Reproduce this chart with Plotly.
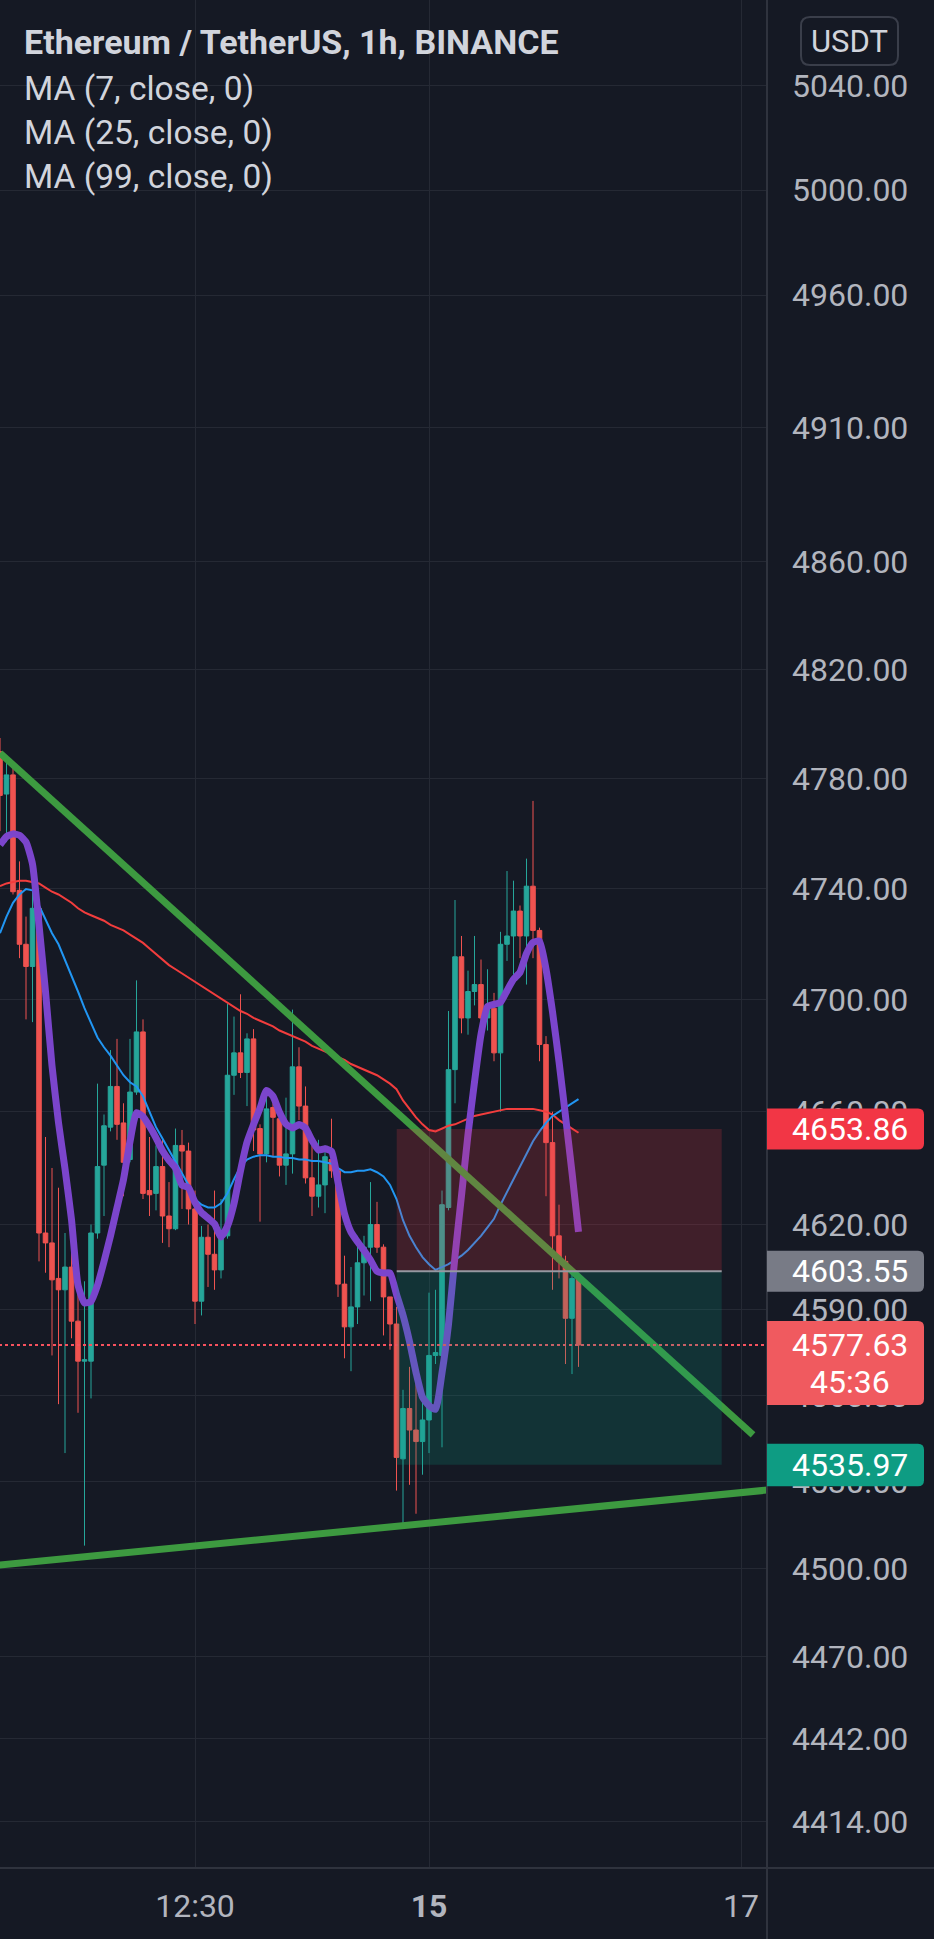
import math
import plotly.graph_objects as go

# ---------------- data ----------------
bars = list(range(90))
open_ = [4790, 4774.5, 4781.5, 4739.5, 4720, 4712, 4733, 4617, 4613.5, 4601,
         4597, 4605, 4586, 4572, 4572, 4617, 4641, 4654.5, 4669, 4656,
         4643, 4667, 4688.5, 4632, 4631, 4640.5, 4623, 4618.5, 4648, 4646,
         4625.5, 4593, 4615.5, 4609.5, 4604, 4616, 4673, 4681, 4674, 4686,
         4654, 4645, 4661.5, 4657.5, 4641, 4645, 4676, 4662, 4636.5, 4630,
         4634, 4643, 4639, 4599, 4584, 4591, 4606.5, 4612, 4620, 4612,
         4594.5, 4585, 4538, 4555.5, 4548, 4544, 4551.5, 4574, 4574, 4626,
         4675, 4715.5, 4693.5, 4703, 4705.5, 4693.5, 4697, 4681, 4720, 4723,
         4732, 4723, 4741, 4725, 4684, 4649, 4616, 4607, 4587, 4601]
high = [4795, 4787, 4784, 4750, 4730, 4739, 4736, 4651, 4640, 4633,
        4617, 4620.5, 4601, 4600, 4620, 4670, 4659, 4682, 4686, 4663,
        4686, 4707, 4693, 4651, 4648, 4650, 4635, 4654, 4653.5, 4649,
        4632, 4619.5, 4620, 4632, 4629, 4698.5, 4694, 4702, 4688, 4689.5,
        4655.5, 4666, 4663, 4661.5, 4665, 4696.5, 4683, 4669, 4648, 4650,
        4648, 4657.5, 4640, 4609, 4605, 4616, 4616, 4635, 4628, 4613,
        4594.5, 4591, 4562, 4570, 4565, 4562, 4596, 4597, 4632, 4696,
        4736, 4723, 4710.5, 4723, 4714.5, 4711, 4702.5, 4724.5, 4746.5, 4743,
        4734, 4751, 4772, 4726, 4687, 4660, 4627, 4609, 4603.5, 4601.5]
low = [4761, 4757, 4738, 4715, 4693, 4692, 4607, 4603, 4574, 4557,
       4540, 4580, 4554, 4508, 4559, 4615, 4623, 4653, 4650, 4630,
       4642, 4666, 4629, 4623, 4625, 4613.5, 4612, 4618, 4625.5, 4620,
       4585, 4588, 4598, 4597, 4601, 4615, 4666, 4672, 4662, 4646,
       4621, 4642, 4644, 4637, 4634, 4638, 4657, 4634.5, 4623, 4626,
       4624, 4636.5, 4594.5, 4573, 4568.5, 4585, 4595, 4593, 4610, 4581,
       4576, 4527, 4515, 4529, 4519, 4532.5, 4540, 4571, 4542, 4625,
       4663, 4688, 4687.5, 4698, 4691, 4689, 4678, 4660, 4714, 4709,
       4715, 4705.5, 4715, 4678, 4630, 4597, 4601, 4571, 4567.5, 4570]
close = [4774, 4781.5, 4739, 4720, 4712, 4733, 4617, 4613.5, 4600.5, 4597,
         4605, 4586, 4572, 4572.5, 4617, 4640.5, 4655, 4669, 4655.5, 4642,
         4667, 4688.5, 4631, 4630.5, 4640.5, 4623, 4618.5, 4648, 4646, 4625.5,
         4593, 4615.5, 4609.5, 4604, 4616, 4673, 4681, 4674, 4686, 4653.5,
         4645, 4661, 4658, 4641, 4645, 4676, 4662, 4636.5, 4630, 4634,
         4644, 4639, 4599, 4584, 4591, 4606.5, 4612, 4620, 4612, 4594.5,
         4585, 4538.5, 4555.5, 4548, 4544, 4551.5, 4574, 4575, 4627, 4675,
         4715.5, 4693.5, 4703, 4705.5, 4693.5, 4697, 4681, 4720, 4723, 4732,
         4723, 4741, 4725, 4684, 4649, 4616, 4607, 4587, 4601, 4577.63]

ma7 = [4756, 4759, 4760, 4759.5, 4757, 4749, 4727, 4703, 4676.4, 4656.1,
       4639.7, 4621.7, 4598.7, 4592.4, 4592.9, 4598.6, 4606.9, 4616, 4625.9, 4635.9,
       4649.4, 4659.6, 4658.3, 4654.8, 4650.7, 4646.1, 4642.7, 4640, 4633.9, 4633.1,
       4627.8, 4624.2, 4622.3, 4620.2, 4615.6, 4619.5, 4627.4, 4639, 4649.1, 4655.4,
       4661.2, 4667.6, 4665.5, 4659.8, 4655.6, 4654.2, 4655.4, 4654.2, 4649.8, 4646.4,
       4646.8, 4645.9, 4634.9, 4623.8, 4617.3, 4613.9, 4610.8, 4607.4, 4603.5, 4602.9,
       4602.9, 4595.4, 4588.1, 4578.9, 4568.1, 4559.4, 4556.5, 4555.2, 4567.9, 4584.9,
       4608.9, 4630.2, 4651.9, 4670.6, 4687.6, 4697.6, 4698.4, 4699.1, 4703.3, 4707.4,
       4709.9, 4716.7, 4720.7, 4721.1, 4711, 4695.7, 4677.9, 4658.4, 4638.4, 4617.4]
ma25 = [4724, 4730, 4735, 4738, 4740, 4739.5, 4734, 4729, 4724, 4720,
        4714.5, 4709, 4703, 4697, 4691.5, 4686.5, 4683, 4680, 4676.5, 4673,
        4670.5, 4669, 4665.5, 4660, 4654.5, 4650.5, 4646.5, 4642.5, 4638.5, 4634,
        4629, 4627, 4626, 4626, 4627.5, 4631, 4636, 4640.5, 4643, 4644,
        4644.5, 4644.5, 4644, 4644, 4643.5, 4643.5, 4643, 4643, 4642.5, 4642.5,
        4642, 4641.5, 4640, 4638.5, 4638.5, 4639, 4639, 4639.5, 4638.5, 4637,
        4634, 4629, 4621.5, 4616, 4612, 4608.5, 4606, 4604, 4605, 4606,
        4607.5, 4609, 4611, 4613.5, 4616, 4619, 4622, 4627, 4631.5, 4636,
        4641, 4645, 4649.5, 4653, 4656, 4658.5, 4660, 4661.5, 4663, 4664.5]
ma99 = [4741, 4742, 4742.5, 4743, 4743, 4742.5, 4742, 4740.5, 4739, 4738,
        4736.5, 4735, 4733, 4731.5, 4730.5, 4729.5, 4728.5, 4727, 4726, 4725,
        4723.5, 4722, 4720.5, 4718.5, 4716.5, 4714.5, 4712.5, 4711, 4709.5, 4708,
        4706.5, 4705, 4703.5, 4702, 4700.5, 4699, 4697.5, 4696, 4695, 4693.5,
        4692.5, 4691.5, 4690.5, 4689, 4688, 4687, 4686, 4685, 4683.5, 4682.5,
        4681.5, 4680.5, 4679.5, 4678.5, 4677, 4676, 4675, 4674, 4673, 4671.5,
        4670, 4668, 4664, 4661, 4658, 4655.5, 4653.5, 4653, 4654, 4655,
        4655.5, 4656.5, 4657.5, 4658.5, 4659, 4659.5, 4660, 4660.5, 4661, 4661,
        4661, 4661, 4661, 4660.5, 4660, 4659, 4657, 4655.5, 4654, 4652.5]

price_ticks = [5040, 5000, 4960, 4910, 4860, 4820, 4780, 4740, 4700, 4660,
               4620, 4590, 4560, 4530, 4500, 4470, 4442, 4414]
price_tick_text = ["%.2f" % v for v in price_ticks]
time_tick_bars = [30, 66, 114]
time_tick_text = ["12:30", "<b>15</b>", "17"]

trend_down_bars = [0, 115.85]
trend_down_prices = [4789.5, 4546.3]
trend_up_bars = [-1, 119]
trend_up_prices = [4501.1, 4527.4]

position_bars = [61.03, 111.03]
stop_price = 4653.86
entry_price = 4603.55
target_price = 4535.97
last_price = 4577.63
countdown = "45:36"

view_prices = [4398.3, 5073.2]
view_bars = [0, 118]

title_text = "Ethereum / TetherUS, 1h, BINANCE"
legend_lines = ["MA (7, close, 0)", "MA (25, close, 0)", "MA (99, close, 0)"]

# ---------------- style ----------------
W, H = 934, 1939
PL, PR, PT, PB = 0, 167, 0, 71
PW, PH = W - PL - PR, H - PT - PB
BG = "#151924"
GRID = "#252934"
SEP = "#2f333e"
TXT = "#b2b5be"
LEG = "#d1d4dc"
UP, DN = "#26a69a", "#ef5350"
FONT = "Roboto"
AX_SIZE = 32


def pxx(x):
    return x / PW


def pxy(y):
    return 1 - y / PH


fig = go.Figure()
fig.add_trace(go.Candlestick(
    x=bars, open=open_, high=high, low=low, close=close,
    increasing=dict(line=dict(color=UP, width=1), fillcolor=UP),
    decreasing=dict(line=dict(color=DN, width=1), fillcolor=DN),
    whiskerwidth=0, hoverinfo="skip", showlegend=False))
fig.add_trace(go.Scatter(x=bars, y=ma99, mode="lines",
                         line=dict(color="#f23d3d", width=2), hoverinfo="skip", showlegend=False))
fig.add_trace(go.Scatter(x=bars, y=ma25, mode="lines",
                         line=dict(color="#2196f3", width=2), hoverinfo="skip", showlegend=False))
fig.add_trace(go.Scatter(x=bars, y=ma7, mode="lines",
                         line=dict(color="#7b45cc", width=7, shape="spline", smoothing=0.5),
                         hoverinfo="skip", showlegend=False))
fig.add_trace(go.Scatter(x=trend_down_bars, y=trend_down_prices, mode="lines",
                         line=dict(color="#3d9a40", width=7), hoverinfo="skip", showlegend=False))
fig.add_trace(go.Scatter(x=trend_up_bars, y=trend_up_prices, mode="lines",
                         line=dict(color="#3d9a40", width=7), hoverinfo="skip", showlegend=False))
fig.add_trace(go.Scatter(x=[view_bars[0] - 2, view_bars[1] + 2], y=[last_price, last_price], mode="lines",
                         line=dict(color="#f7525f", width=2, dash="dot"), hoverinfo="skip", showlegend=False))

shapes = []
# position tool
shapes.append(dict(type="rect", xref="x", yref="y", x0=position_bars[0], x1=position_bars[1],
                   y0=entry_price, y1=stop_price, fillcolor="rgba(242,54,69,0.2)",
                   line=dict(width=0), layer="above"))
shapes.append(dict(type="rect", xref="x", yref="y", x0=position_bars[0], x1=position_bars[1],
                   y0=target_price, y1=entry_price, fillcolor="rgba(8,153,129,0.2)",
                   line=dict(width=0), layer="above"))
shapes.append(dict(type="line", xref="x", yref="y", x0=position_bars[0], x1=position_bars[1],
                   y0=entry_price, y1=entry_price, line=dict(color="#9598a1", width=2), layer="above"))
# separators
shapes.append(dict(type="line", xref="paper", yref="paper", x0=1, x1=1, y0=pxy(H), y1=1,
                   line=dict(color=SEP, width=2), layer="above"))
shapes.append(dict(type="line", xref="paper", yref="paper", x0=0, x1=pxx(W), y0=0, y1=0,
                   line=dict(color=SEP, width=2), layer="above"))


def tag_path(up, down, w=157, r=6):
    return ("M 0,%g L %g,%g Q %g,%g %g,%g L %g,%g Q %g,%g %g,%g L 0,%g Z" %
            (up, w - r, up, w, up, w, up - r, w, down + r, w, down, w - r, down, down))


tags = [(stop_price, 20.5, -20.5, "#f23645"),
        (entry_price, 20.5, -20.5, "#787b86"),
        (last_price, 24, -60, "#f05a5f"),
        (target_price, 21, -21.5, "#0e9c83")]
annotations = []
for price, up, down, col in tags:
    shapes.append(dict(type="path", xref="paper", yref="y", xsizemode="pixel", ysizemode="pixel",
                       xanchor=1, yanchor=price, path=tag_path(up, down),
                       fillcolor=col, line=dict(width=0), layer="above"))
    annotations.append(dict(x=pxx(850), xref="paper", y=math.log10(price), yref="y",
                            text="%.2f" % price, showarrow=False, xanchor="center", yanchor="middle",
                            font=dict(family=FONT, size=AX_SIZE, color="#ffffff")))
annotations.append(dict(x=pxx(850), xref="paper", y=math.log10(last_price), yref="y", yshift=-37,
                        text=countdown, showarrow=False, xanchor="center", yanchor="middle",
                        font=dict(family=FONT, size=AX_SIZE, color="#ffffff")))

# USDT button
shapes.append(dict(type="path", xref="paper", yref="paper", xsizemode="pixel", ysizemode="pixel",
                   xanchor=1, yanchor=1,
                   path="M 43,-17 L 122,-17 Q 131,-17 131,-26 L 131,-56 Q 131,-65 122,-65 "
                        "L 43,-65 Q 34,-65 34,-56 L 34,-26 Q 34,-17 43,-17 Z",
                   fillcolor=BG, line=dict(color="#3a3e4a", width=2), layer="above"))
annotations.append(dict(x=pxx(850), xref="paper", y=pxy(41), yref="paper", text="USDT",
                        showarrow=False, xanchor="center", yanchor="middle",
                        font=dict(family=FONT, size=31, color=LEG)))

# legend texts
annotations.append(dict(x=pxx(22), xref="paper", y=pxy(42), yref="paper", text="<b>%s</b>" % title_text,
                        showarrow=False, xanchor="left", yanchor="middle",
                        font=dict(family=FONT, size=34, color=LEG)))
for k, t in enumerate(legend_lines):
    annotations.append(dict(x=pxx(22), xref="paper", y=pxy(88 + 44.5 * k), yref="paper", text=t,
                            showarrow=False, xanchor="left", yanchor="middle",
                            font=dict(family=FONT, size=33.5, color=LEG)))

fig.update_layout(
    width=W, height=H, autosize=False,
    margin=dict(l=PL, r=PR, t=PT, b=PB, pad=0),
    paper_bgcolor=BG, plot_bgcolor=BG,
    showlegend=False, boxgap=0.3, boxgroupgap=0,
    shapes=shapes, annotations=annotations,
    xaxis=dict(range=view_bars, tickvals=time_tick_bars, ticktext=time_tick_text,
               showgrid=True, gridcolor=GRID, gridwidth=1, zeroline=False, showline=False,
               ticks="", ticklabelstandoff=16, rangeslider=dict(visible=False), fixedrange=True,
               tickfont=dict(family=FONT, size=AX_SIZE, color=TXT)),
    yaxis=dict(type="log", range=[math.log10(view_prices[0]), math.log10(view_prices[1])],
               side="right", tickvals=price_ticks, ticktext=price_tick_text,
               showgrid=True, gridcolor=GRID, gridwidth=1, zeroline=False, showline=False,
               ticks="", ticklabelstandoff=24, fixedrange=True,
               tickfont=dict(family=FONT, size=AX_SIZE, color=TXT)),
)

fig.write_html("out.html")
